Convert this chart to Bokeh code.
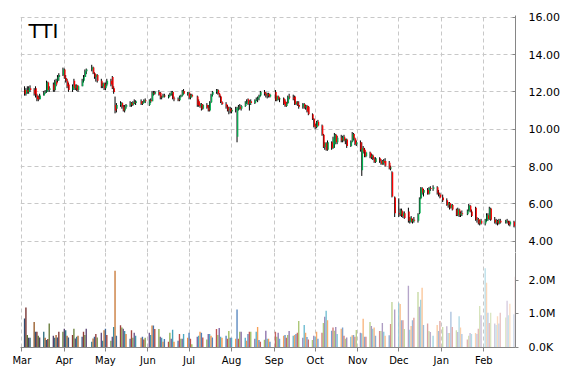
import pandas as pd
from bokeh.plotting import figure
from bokeh.layouts import column
from bokeh.models import (ColumnDataSource, Range1d, FixedTicker, DatetimeTickFormatter,
                          Label, Grid)
from bokeh.embed import file_html
from bokeh.resources import INLINE

TICKER = "TTI"
START, END = "2014-03-03", "2015-02-24"
HOLIDAYS = ["2014-04-18", "2014-05-26", "2014-07-04", "2014-09-01", "2014-11-27",
            "2014-12-25", "2015-01-01", "2015-01-19", "2015-02-16"]
MONTH_STARTS = ["2014-03-01", "2014-04-01", "2014-05-01", "2014-06-01", "2014-07-01",
                "2014-08-01", "2014-09-01", "2014-10-01", "2014-11-01", "2014-12-01",
                "2015-01-01", "2015-02-01"]
PRICE_TICKS = [4, 6, 8, 10, 12, 14, 16]
PRICE_TICK_LABELS = ["4.00", "6.00", "8.00", "10.00", "12.00", "14.00", "16.00"]
VOLUME_TICKS = [0, 1, 2]
VOLUME_TICK_LABELS = ["0.0K", "1.0M", "2.0M"]

OPEN = [
    # Mar
    12.1, 11.9, 12.1, 12.0, 12.2, 12.1, 12.2, 11.8, 11.7, 11.6, 11.8, 11.95, 12.0, 12.5, 12.1,
    12.4, 12.1, 12.55, 12.6, 12.8, 12.9,
    # Apr
    13.2, 12.75, 12.6, 12.4, 12.1, 12.6, 12.2, 12.35, 12.1, 12.3, 12.6, 12.8, 13.1,
    13.2, 13.3, 13.0, 12.8, 12.9, 12.6, 12.3, 12.45,
    # May
    12.2, 12.4, 12.6, 12.8, 12.2, 11.3, 11.1, 11.3, 11.4, 11.2, 11.0, 11.2,
    11.3, 11.4, 11.3, 11.45, 11.4, 11.5, 11.35, 11.45, 11.55,
    # Jun
    11.3, 11.55, 11.5, 11.95, 11.9, 12.0, 11.95, 11.7, 11.75, 11.8, 11.7, 11.8, 11.9, 12.0, 11.65,
    11.6, 11.55, 11.75, 11.8, 12.05, 11.9,
    # Jul
    11.95, 11.7, 11.85, 11.75, 11.5, 11.25, 11.35, 11.1, 11.3, 11.15, 11.0, 11.45, 11.85,
    12.0, 12.1, 11.9, 11.75, 11.45, 11.35, 11.2, 11.05, 11.1,
    # Aug
    10.95, 11.05, 9.6, 11.15, 11.2, 11.1, 11.25, 11.45, 11.6, 11.35, 11.5,
    11.4, 11.55, 11.6, 11.7, 11.8, 12.0, 11.9, 11.8, 11.9, 11.75,
    # Sep
    12.0, 11.55, 11.75, 11.6, 11.65, 11.5, 11.25, 11.4, 11.75, 11.7, 11.75, 11.35, 11.45, 11.3,
    11.2, 11.35, 11.15, 11.25, 11.2, 10.8, 10.55,
    # Oct
    10.2, 10.1, 10.4, 10.2, 9.7, 9.05, 9.25, 8.9, 9.3, 9.0, 9.2, 9.7, 9.3,
    9.55, 9.4, 9.6, 9.4, 9.45, 9.1, 9.35, 9.75, 9.5, 9.2,
    # Nov
    9.3, 7.8, 9.0, 8.9, 8.55, 8.75, 8.5, 8.6, 8.4, 8.25, 8.45, 8.3, 8.15, 8.3, 8.3,
    8.2, 7.9, 7.7, 6.35,
    # Dec
    5.5, 5.45, 5.65, 5.35, 5.5, 5.6, 5.05, 5.25, 5.05, 5.15, 5.1, 5.5, 6.3, 6.85, 6.6,
    6.75, 6.55, 6.85, 6.8, 6.9, 6.6, 6.5,
    # Jan
    6.35, 6.2, 5.95, 6.05, 5.8, 5.95, 5.7, 5.4, 5.7, 5.4, 5.5, 5.45, 5.65, 5.9, 5.6,
    5.8, 5.15, 5.2, 4.95, 5.1,
    # Feb
    4.95, 5.1, 5.4, 5.2, 5.75, 5.15, 5.0, 5.1, 4.95, 5.1, 5.0, 5.1, 5.05, 4.9, 5.05, 4.8,
]
HIGH = [
    12.3, 12.2, 12.3, 12.3, 12.35, 12.2, 12.3, 11.9, 11.8, 11.9, 12.05, 12.1, 12.6, 12.55, 12.3,
    12.5, 12.65, 12.7, 12.9, 13.0, 13.3,
    13.25, 12.9, 12.7, 12.5, 12.4, 12.7, 12.4, 12.4, 12.35, 12.7, 12.9, 13.2, 13.25,
    13.45, 13.35, 13.05, 12.95, 12.95, 12.7, 12.5, 12.5,
    12.5, 12.7, 12.7, 12.85, 12.3, 11.75, 11.4, 11.5, 11.45, 11.3, 11.3, 11.35,
    11.5, 11.45, 11.5, 11.6, 11.55, 11.6, 11.5, 11.6, 11.65,
    11.6, 11.65, 12.05, 12.05, 12.05, 12.1, 12.0, 11.8, 11.9, 11.9, 11.85, 11.95, 12.05, 12.05, 11.75,
    11.7, 11.8, 11.85, 12.1, 12.15, 12.0,
    12.0, 11.9, 11.9, 11.8, 11.6, 11.4, 11.4, 11.35, 11.4, 11.3, 11.5, 11.9, 12.05,
    12.15, 12.15, 11.95, 11.8, 11.5, 11.45, 11.3, 11.2, 11.2,
    11.15, 11.2, 11.2, 11.3, 11.35, 11.3, 11.5, 11.6, 11.65, 11.55, 11.6,
    11.6, 11.7, 11.75, 11.85, 12.05, 12.1, 12.0, 11.95, 11.95, 11.9,
    12.1, 11.8, 11.8, 11.7, 11.7, 11.6, 11.45, 11.8, 11.9, 11.85, 11.8, 11.5, 11.5, 11.5,
    11.4, 11.4, 11.3, 11.3, 11.25, 10.85, 10.6,
    10.3, 10.45, 10.5, 10.25, 9.75, 9.3, 9.3, 9.4, 9.35, 9.6, 9.8, 9.75, 9.65,
    9.7, 9.65, 9.7, 9.5, 9.5, 9.4, 9.85, 9.8, 9.55, 9.4,
    9.4, 9.3, 9.1, 9.0, 8.8, 8.8, 8.7, 8.65, 8.5, 8.5, 8.5, 8.4, 8.35, 8.4, 8.45,
    8.3, 8.05, 7.75, 6.4,
    6.3, 5.75, 5.75, 5.6, 5.6, 5.8, 5.3, 5.35, 5.2, 5.3, 5.5, 6.35, 6.9, 6.9, 6.8,
    6.85, 6.9, 6.95, 7.0, 6.95, 6.75, 6.6,
    6.5, 6.3, 6.1, 6.1, 6.0, 6.0, 5.75, 5.8, 5.75, 5.6, 5.65, 5.7, 6.0, 5.95, 5.7,
    5.85, 5.3, 5.25, 5.15, 5.2,
    5.2, 5.5, 5.5, 5.85, 5.8, 5.3, 5.2, 5.15, 5.2, 5.2, 5.15, 5.2, 5.1, 5.1, 5.1, 4.95,
]
LOW = [
    11.8, 11.8, 11.9, 11.9, 12.0, 11.8, 11.7, 11.5, 11.5, 11.6, 11.8, 11.9, 11.95, 12.0, 12.0,
    12.0, 12.0, 12.3, 12.5, 12.6, 12.85,
    12.7, 12.5, 12.2, 12.0, 12.0, 12.1, 12.1, 12.05, 12.0, 12.3, 12.5, 12.8, 12.95,
    13.1, 12.95, 12.7, 12.55, 12.5, 12.2, 12.2, 12.1,
    12.1, 12.3, 12.3, 12.15, 11.9, 10.85, 10.9, 11.2, 11.1, 10.95, 10.9, 11.1,
    11.2, 11.2, 11.25, 11.35, 11.3, 11.3, 11.3, 11.4, 11.4,
    11.25, 11.4, 11.5, 11.8, 11.85, 11.8, 11.6, 11.6, 11.7, 11.7, 11.65, 11.75, 11.8, 11.6, 11.5,
    11.5, 11.5, 11.7, 11.75, 11.85, 11.8,
    11.6, 11.6, 11.7, 11.2, 11.2, 11.15, 11.0, 11.05, 11.1, 10.95, 10.95, 11.4, 11.75,
    11.9, 11.85, 11.7, 11.4, 11.3, 11.1, 10.95, 10.8, 10.85,
    10.85, 10.9, 9.3, 11.0, 11.05, 11.0, 11.2, 11.35, 11.3, 11.0, 11.3,
    11.35, 11.5, 11.45, 11.55, 11.75, 11.8, 11.7, 11.65, 11.7, 11.7,
    11.5, 11.5, 11.55, 11.45, 11.3, 11.2, 11.2, 11.35, 11.6, 11.55, 11.3, 11.3, 11.25, 11.1,
    11.1, 11.1, 11.05, 10.9, 10.75, 10.5, 10.1,
    10.0, 10.05, 10.15, 9.65, 9.0, 8.9, 8.85, 8.85, 8.9, 8.95, 9.0, 9.2, 9.2,
    9.3, 9.3, 9.35, 9.2, 9.0, 9.05, 9.3, 9.4, 9.15, 9.1,
    8.8, 7.5, 8.7, 8.5, 8.5, 8.45, 8.4, 8.35, 8.2, 8.2, 8.2, 8.1, 8.1, 8.1, 8.0,
    7.85, 7.8, 6.35, 5.3,
    5.3, 5.35, 5.3, 5.25, 5.2, 5.0, 4.95, 5.0, 4.95, 5.0, 5.0, 5.45, 6.25, 6.5, 6.4,
    6.5, 6.5, 6.7, 6.7, 6.5, 6.4, 6.3,
    6.1, 5.9, 5.8, 5.7, 5.75, 5.65, 5.35, 5.35, 5.3, 5.3, 5.35, 5.4, 5.6, 5.55, 5.3,
    5.1, 5.0, 4.9, 4.85, 4.9,
    4.85, 5.05, 5.1, 5.15, 5.1, 4.95, 4.9, 4.85, 4.9, 4.95, 4.95, 4.95, 4.85, 4.8, 4.75, 4.7,
]
CLOSE = [
    11.9, 12.1, 12.0, 12.2, 12.1, 11.9, 11.8, 11.6, 11.6, 11.8, 11.95, 12.0, 12.5, 12.1, 12.2,
    12.1, 12.55, 12.4, 12.8, 12.9, 13.2,
    12.75, 12.6, 12.3, 12.1, 12.3, 12.2, 12.35, 12.1, 12.3, 12.6, 12.8, 13.1, 13.2,
    13.3, 13.0, 12.8, 12.9, 12.6, 12.3, 12.45, 12.2,
    12.4, 12.6, 12.4, 12.2, 12.0, 11.0, 11.3, 11.4, 11.2, 11.0, 11.2, 11.3,
    11.4, 11.3, 11.45, 11.4, 11.5, 11.35, 11.45, 11.55, 11.5,
    11.55, 11.5, 11.95, 11.9, 12.0, 11.85, 11.7, 11.75, 11.8, 11.75, 11.8, 11.9, 12.0, 11.65, 11.6,
    11.55, 11.75, 11.8, 12.05, 11.9, 11.95,
    11.7, 11.85, 11.75, 11.3, 11.25, 11.35, 11.1, 11.3, 11.15, 11.0, 11.45, 11.85, 12.0,
    12.1, 11.9, 11.75, 11.45, 11.35, 11.2, 11.0, 11.1, 10.95,
    11.05, 11.1, 11.15, 11.2, 11.1, 11.25, 11.45, 11.5, 11.35, 11.5, 11.4,
    11.55, 11.6, 11.7, 11.8, 12.0, 11.9, 11.8, 11.9, 11.75, 11.85,
    11.55, 11.75, 11.6, 11.65, 11.35, 11.25, 11.4, 11.75, 11.7, 11.6, 11.35, 11.45, 11.3, 11.2,
    11.35, 11.15, 11.25, 10.95, 10.8, 10.55, 10.15,
    10.1, 10.4, 10.2, 9.7, 9.05, 9.25, 8.9, 9.3, 9.0, 9.5, 9.7, 9.3, 9.55,
    9.4, 9.6, 9.4, 9.45, 9.1, 9.35, 9.75, 9.5, 9.2, 9.3,
    8.9, 9.0, 8.8, 8.55, 8.75, 8.5, 8.6, 8.4, 8.25, 8.45, 8.3, 8.15, 8.3, 8.2, 8.05,
    7.9, 7.95, 6.4, 5.5,
    5.45, 5.65, 5.35, 5.5, 5.25, 5.1, 5.25, 5.05, 5.15, 5.1, 5.45, 6.3, 6.85, 6.6, 6.75,
    6.55, 6.85, 6.8, 6.9, 6.6, 6.5, 6.35,
    6.2, 5.95, 6.05, 5.8, 5.95, 5.7, 5.4, 5.7, 5.4, 5.5, 5.45, 5.65, 5.9, 5.6, 5.35,
    5.15, 5.2, 4.95, 5.1, 4.95,
    5.1, 5.4, 5.2, 5.75, 5.15, 5.0, 5.1, 4.95, 5.1, 5.0, 5.1, 5.05, 4.9, 5.05, 4.8, 4.9,
]
VOLUME_M = [
    0.86, 1.19, 0.37, 0.29, 0.29, 0.76, 0.47, 0.47, 0.35, 0.30, 0.47, 0.29, 0.22, 0.25, 0.71,
    0.35, 0.29, 0.37, 0.30, 0.47, 0.47,
    0.56, 0.51, 0.35, 0.30, 0.37, 0.56, 0.27, 0.32, 0.35, 0.32, 0.47, 0.37, 0.56,
    0.17, 0.27, 0.32, 0.40, 0.30, 0.44, 0.20, 0.51,
    0.56, 0.37, 0.20, 0.32, 0.61, 2.28, 0.35, 0.66, 0.59, 0.56, 0.49, 0.40,
    0.26, 0.51, 0.29, 0.44, 0.35, 0.29, 0.32, 0.24, 0.29,
    0.44, 0.37, 0.65, 0.65, 0.55, 0.55, 0.32, 0.29, 0.17, 0.25, 0.17, 0.44, 0.26, 0.53, 0.17,
    0.20, 0.40, 0.26, 0.26, 0.40, 0.29,
    0.44, 0.26, 0.10, 0.32, 0.35, 0.47, 0.44, 0.30, 0.24, 0.40, 0.40, 0.35, 0.30,
    0.55, 0.37, 0.58, 0.32, 0.29, 0.35, 0.26, 0.49, 0.29,
    0.29, 0.26, 1.13, 0.26, 0.47, 0.47, 0.29, 0.20, 0.40, 0.47, 0.47,
    0.26, 0.47, 0.61, 0.22, 0.17, 0.23, 0.50, 0.26, 0.26, 0.17,
    0.47, 0.32, 0.44, 0.26, 0.35, 0.37, 0.29, 0.37, 0.49, 0.35, 0.37, 0.40, 0.44, 0.79,
    0.29, 0.67, 0.44, 0.31, 0.24, 0.22, 0.35,
    0.32, 0.47, 0.26, 0.44, 0.73, 0.91, 1.09, 0.81, 0.50, 0.59, 0.50, 0.61, 0.40,
    0.56, 0.59, 0.35, 0.26, 0.30, 0.32, 0.36, 0.37, 0.32, 0.52,
    0.44, 0.42, 0.85, 0.32, 0.32, 0.76, 0.64, 0.56, 0.59, 0.35, 0.49, 0.49, 0.73, 0.47, 0.35,
    0.36, 0.70, 1.35, 1.13,
    1.31, 1.29, 0.81, 0.81, 0.55, 1.83, 0.53, 0.64, 0.81, 0.88, 1.65, 1.21, 1.42, 1.77, 0.67,
    0.71, 0.49, 0.46, 0.35, 0.67, 0.49, 0.79,
    0.61, 0.63, 0.43, 0.43, 1.06, 0.61, 0.51, 0.46, 0.93, 0.59, 0.40, 0.24, 0.35, 0.43, 0.40,
    0.43, 0.40, 0.56, 1.23, 0.96,
    2.35, 1.92, 1.03, 0.73, 1.03, 0.71, 0.67, 0.93, 0.71, 1.03, 0.89, 1.39, 0.96, 1.30, 0.99, 2.10,
]

VOLUME_PALETTE = ["#4F81BD", "#C0504D", "#9BBB59", "#8064A2", "#4BACC6", "#F79646"]
UP_COLOR, DOWN_COLOR = "#00B050", "#FF0000"
GRID_COLOR, AXIS_COLOR = "#C8C8C8", "#868686"

dates = pd.bdate_range(START, END, freq="C", holidays=HOLIDAYS)
n = len(dates)
assert n == len(OPEN) == len(HIGH) == len(LOW) == len(CLOSE) == len(VOLUME_M)

DAY = 86400000


def shade(hexc, t):
    r, g, b = (int(hexc[i:i + 2], 16) for i in (1, 3, 5))
    if t < 0.35:
        f = 0.6 + 0.4 * t / 0.35
        r, g, b = r * f, g * f, b * f
    else:
        w = 0.7 * ((t - 0.35) / 0.65) ** 1.3
        r, g, b = r + (255 - r) * w, g + (255 - g) * w, b + (255 - b) * w
    return "#%02x%02x%02x" % (int(r), int(g), int(b))


body_colors = [UP_COLOR if c > o else (DOWN_COLOR if c < o else "black") for o, c in zip(OPEN, CLOSE)]
vol_colors = [shade(VOLUME_PALETTE[i % len(VOLUME_PALETTE)], i / (n - 1)) for i in range(n)]

src = ColumnDataSource(dict(
    date=dates,
    body_x=dates + pd.Timedelta(hours=12),
    top=[max(o, c) for o, c in zip(OPEN, CLOSE)],
    bottom=[min(o, c) for o, c in zip(OPEN, CLOSE)],
    high=HIGH, low=LOW, color=body_colors,
    vol=VOLUME_M, vcolor=vol_colors,
))

month_ms = [pd.Timestamp(m).value // 10**6 for m in MONTH_STARTS]
month_ticker = FixedTicker(ticks=month_ms)
xr = Range1d(pd.Timestamp("2014-02-28 01:00"), pd.Timestamp("2015-02-24 03:00"))

FONT = "DejaVu Sans"
W = 565
LEFT, RIGHT = 20, 50

# ---- price panel ----
p = figure(width=W, height=252, x_axis_type="datetime", x_axis_location=None,
           y_axis_location="right", x_range=xr, y_range=Range1d(3.40, 16.09),
           output_backend="svg", toolbar_location=None,
           min_border_left=LEFT, min_border_right=RIGHT, min_border_top=15, min_border_bottom=0)
p.outline_line_color = None
p.segment(x0="date", y0="low", x1="date", y1="high", source=src, line_color="black", line_width=1)
p.vbar(x="body_x", width=0.9 * DAY, top="top", bottom="bottom", source=src,
       fill_color="color", line_color=None)

if len(p.xgrid) == 0:
    p.add_layout(Grid(dimension=0, ticker=month_ticker), "center")
for g in p.xgrid:
    g.ticker = month_ticker
p.grid.grid_line_color = GRID_COLOR
p.grid.grid_line_dash = "4 3"
p.grid.grid_line_width = 1
p.ygrid.ticker = FixedTicker(ticks=PRICE_TICKS)

ya = p.yaxis[0]
ya.ticker = FixedTicker(ticks=PRICE_TICKS)
ya.major_label_overrides = {t: s for t, s in zip(PRICE_TICKS, PRICE_TICK_LABELS)}
ya.axis_line_color = AXIS_COLOR
ya.major_tick_line_color = AXIS_COLOR
ya.major_tick_in = 3
ya.major_tick_out = 0
ya.minor_tick_line_color = None
ya.major_label_standoff = 13
ya.major_label_text_font = FONT
ya.major_label_text_font_size = "11px"
ya.major_label_text_color = "black"

p.add_layout(Label(x=8, y=234, x_units="screen", y_units="screen", text=TICKER,
                   text_font=FONT, text_font_size="20px", text_baseline="top",
                   text_color="black"))

# ---- volume panel ----
v = figure(width=W, height=118, x_axis_type="datetime", y_axis_location="right",
           x_range=xr, y_range=Range1d(0, 2.82), output_backend="svg", toolbar_location=None,
           min_border_left=LEFT, min_border_right=RIGHT, min_border_top=0, min_border_bottom=23)
v.outline_line_color = None
v.vbar(x="date", width=1.0 * DAY, top="vol", bottom=0, source=src,
       fill_color="vcolor", line_color=None)
v.ygrid.visible = False
v.xgrid.ticker = month_ticker
v.xgrid.grid_line_color = GRID_COLOR
v.xgrid.grid_line_dash = "4 3"

xa = v.xaxis[0]
xa.ticker = month_ticker
xa.formatter = DatetimeTickFormatter(milliseconds="%b", seconds="%b", minsec="%b", minutes="%b",
                                     hourmin="%b", hours="%b", days="%b", months="%b", years="%b")
xa.axis_line_color = AXIS_COLOR
xa.major_tick_line_color = AXIS_COLOR
xa.major_tick_in = 0
xa.major_tick_out = 4
xa.minor_tick_line_color = None
xa.major_label_standoff = 3
xa.major_label_text_font = FONT
xa.major_label_text_font_size = "10px"
xa.major_label_text_color = "black"

va = v.yaxis[0]
va.ticker = FixedTicker(ticks=VOLUME_TICKS)
va.major_label_overrides = {t: s for t, s in zip(VOLUME_TICKS, VOLUME_TICK_LABELS)}
va.axis_line_color = AXIS_COLOR
va.major_tick_line_color = AXIS_COLOR
va.major_tick_in = 0
va.major_tick_out = 3
va.minor_tick_line_color = None
va.major_label_standoff = 10
va.major_label_text_font = FONT
va.major_label_text_font_size = "11px"
va.major_label_text_color = "black"

layout = column(p, v, spacing=0)
open("out.html", "w").write(file_html(layout, INLINE))
